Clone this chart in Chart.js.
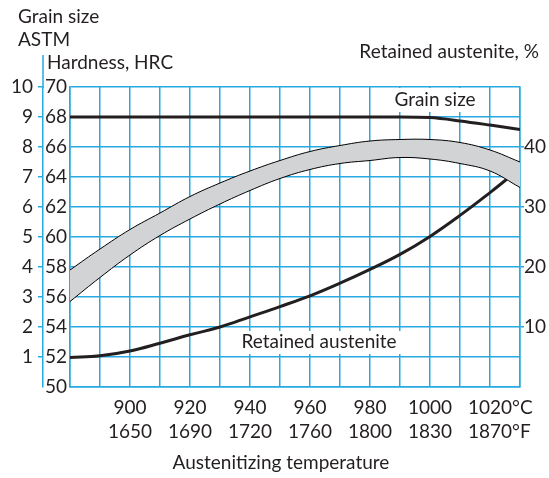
<!DOCTYPE html>
<html>
<head>
<meta charset="utf-8">
<script src="https://cdn.jsdelivr.net/npm/chart.js@4.4.0/dist/chart.umd.min.js"></script>
<style>
  body { margin: 0; background: #ffffff; }
</style>
</head>
<body>
<canvas id="grafica" width="549" height="478"></canvas>
<script>
// datos
const temperaturas = [880, 890, 900, 910, 920, 930, 940, 950, 960, 970, 980, 990, 1000, 1010, 1020, 1030];
const durezaSuperior = [57.8, 59.2, 60.5, 61.6, 62.7, 63.6, 64.4, 65.1, 65.7, 66.1, 66.4, 66.5, 66.5, 66.3, 65.8, 65.0];
const durezaInferior = [55.7, 57.3, 58.8, 60.1, 61.2, 62.2, 63.1, 63.9, 64.5, 64.9, 65.1, 65.3, 65.2, 64.9, 64.4, 63.3];

const tempGrano = [880, 990, 1000, 1010, 1020, 1030];
const tamanoGrano = [9, 9, 8.98, 8.87, 8.73, 8.58];

const tempAustenita = [880, 890, 900, 910, 920, 930, 940, 950, 960, 970, 980, 990, 1000, 1010, 1020, 1027];
const austenita = [4.9, 5.2, 6.0, 7.3, 8.7, 10.0, 11.7, 13.4, 15.2, 17.3, 19.6, 22.1, 25.1, 28.6, 32.4, 35.2];

// etiquetas del eje x
const etiquetasC = [900, 920, 940, 960, 980, 1000, 1020];
const etiquetasF = ['1650', '1690', '1720', '1760', '1800', '1830', '1870'];

const azul = '#27a9e1';
const texto = '#231f20';
const fuente = "Lato, 'DejaVu Sans', sans-serif";

function puntos(xs, ys) {
    return xs.map((x, i) => ({ x: x, y: ys[i] }));
}

// textos y recuadros blancos
const textosPlugin = {
    id: 'textos',
    beforeDatasetsDraw(chart) {
        const c = chart.ctx;
        c.save();
        c.fillStyle = '#ffffff';
        c.fillRect(388, 88, 94, 24);
        c.fillRect(236, 331, 166, 23);
        c.restore();
    },
    afterDraw(chart) {
        const c = chart.ctx;
        c.save();
        c.fillStyle = texto;
        c.font = '19px ' + fuente;
        c.textBaseline = 'middle';
        c.textAlign = 'left';
        c.fillText('Grain size', 18, 17);
        c.fillText('ASTM', 18, 40);
        c.fillText('Hardness, HRC', 47, 63);
        c.textAlign = 'right';
        c.fillText('Retained austenite, %', 539, 52);
        c.textAlign = 'center';
        c.fillText('Grain size', 435, 100);
        c.fillText('Retained austenite', 319, 342);
        c.fillText('Austenitizing temperature', 281, 463);
        c.textAlign = 'left';
        c.fillText('°C', 512, 408);
        c.fillText('°F', 512, 432);
        // linea del eje de tamano de grano que sube sobre la grafica
        c.strokeStyle = azul;
        c.lineWidth = 1.5;
        c.beginPath();
        c.moveTo(43, 55);
        c.lineTo(43, 88);
        c.stroke();
        c.restore();
    }
};

const ctx = document.getElementById('grafica').getContext('2d');
const grafica = new Chart(ctx, {
    type: 'line',
    data: {
        datasets: [{
            label: 'Dureza inferior',
            data: puntos(temperaturas, durezaInferior),
            yAxisID: 'y',
            borderColor: '#000000',
            borderWidth: 1,
            pointRadius: 0,
            fill: false,
            tension: 0.4
        },
        {
            label: 'Dureza superior',
            data: puntos(temperaturas, durezaSuperior),
            yAxisID: 'y',
            borderColor: '#000000',
            borderWidth: 1,
            backgroundColor: '#d1d3d4',
            pointRadius: 0,
            fill: '-1',
            tension: 0.4
        },
        {
            label: 'Grain size',
            data: puntos(tempGrano, tamanoGrano),
            yAxisID: 'yGrano',
            borderColor: texto,
            borderWidth: 3,
            pointRadius: 0,
            fill: false,
            cubicInterpolationMode: 'monotone'
        },
        {
            label: 'Retained austenite',
            data: puntos(tempAustenita, austenita),
            yAxisID: 'yAustenita',
            borderColor: texto,
            borderWidth: 3,
            pointRadius: 0,
            fill: false,
            tension: 0.4
        }]
    },
    options: {
        responsive: false,
        animation: false,
        layout: {
            padding: { top: 87, left: 0, right: 0, bottom: 0 }
        },
        plugins: {
            legend: { display: false },
            tooltip: { enabled: false }
        },
        scales: {
            x: {
                type: 'linear',
                min: 880,
                max: 1030,
                afterFit: function (scale) { scale.height = 91; },
                grid: {
                    color: azul,
                    lineWidth: 1.5,
                    drawTicks: false
                },
                border: { color: azul, width: 1.5 },
                ticks: {
                    stepSize: 10,
                    autoSkip: false,
                    maxRotation: 0,
                    padding: 9,
                    color: texto,
                    font: { size: 19, family: fuente, lineHeight: 1.26 },
                    callback: function (value) {
                        const i = etiquetasC.indexOf(value);
                        if (i < 0) return '';
                        return [String(etiquetasC[i]), etiquetasF[i]];
                    }
                }
            },
            y: {
                position: 'left',
                weight: 0,
                min: 50,
                max: 70,
                afterFit: function (scale) { scale.width = 27; },
                grid: {
                    color: azul,
                    lineWidth: 1.5,
                    drawTicks: false
                },
                border: { color: azul, width: 1.5 },
                ticks: {
                    stepSize: 2,
                    padding: 3,
                    color: texto,
                    font: { size: 19, family: fuente }
                }
            },
            yGrano: {
                position: 'left',
                weight: 1,
                min: 0,
                max: 10,
                afterFit: function (scale) { scale.width = 43; },
                grid: {
                    drawOnChartArea: false,
                    tickLength: 5,
                    lineWidth: 1.5,
                    color: function (c) { return c.tick && c.tick.value === 0 ? 'rgba(0,0,0,0)' : azul; }
                },
                border: { color: azul, width: 1.5 },
                ticks: {
                    stepSize: 1,
                    padding: 5,
                    color: texto,
                    font: { size: 19, family: fuente },
                    callback: function (value) { return value === 0 ? '' : value; }
                }
            },
            yAustenita: {
                position: 'right',
                min: 0,
                max: 50,
                afterFit: function (scale) { scale.width = 29; },
                grid: {
                    drawOnChartArea: false,
                    tickLength: 4,
                    lineWidth: 1.5,
                    color: function (c) { return c.tick && (c.tick.value === 0 || c.tick.value === 50) ? 'rgba(0,0,0,0)' : azul; }
                },
                border: { color: azul, width: 1.5 },
                ticks: {
                    stepSize: 10,
                    padding: 0,
                    color: texto,
                    font: { size: 19, family: fuente },
                    callback: function (value) { return (value === 0 || value === 50) ? '' : value; }
                }
            }
        }
    },
    plugins: [textosPlugin]
});
</script>
</body>
</html>
